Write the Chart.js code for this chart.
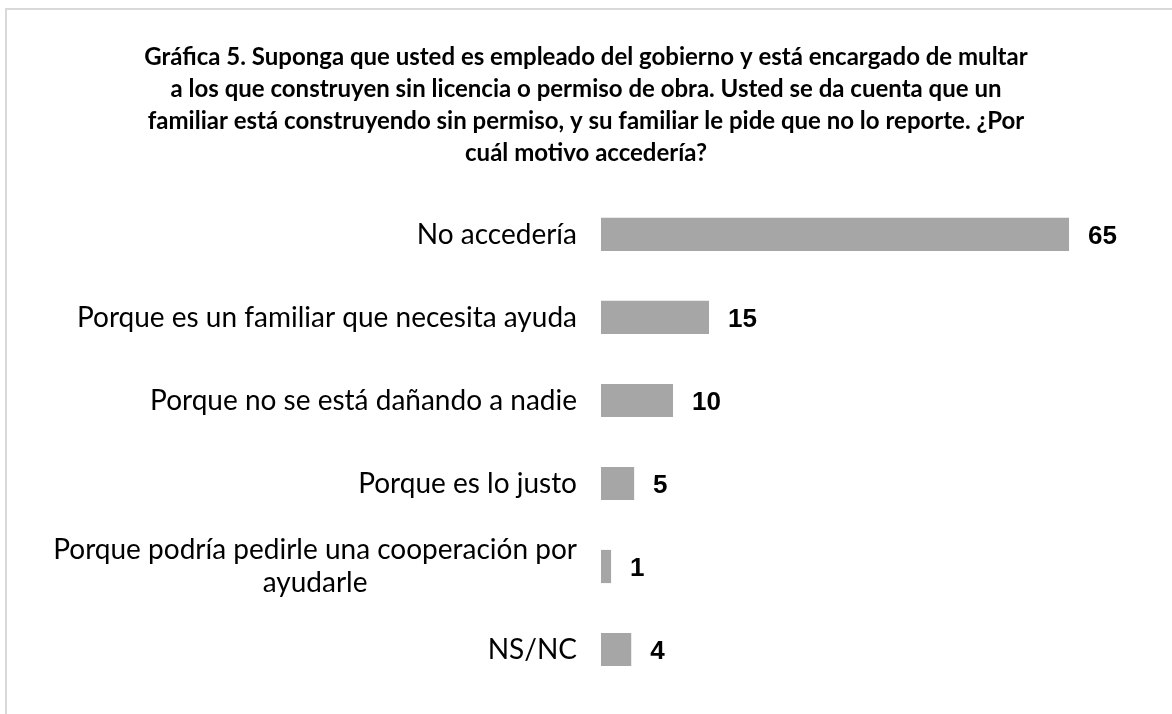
<!DOCTYPE html>
<html>
<head>
<meta charset="utf-8">
<script src="https://cdn.jsdelivr.net/npm/chart.js@4.4.1/dist/chart.umd.min.js"></script>
<style>
  html, body { margin: 0; padding: 0; background: #fff; }
  #wrap { position: relative; width: 1172px; height: 714px; overflow: hidden; }
  #frame { position: absolute; left: 5px; top: 8px; width: 1200px; height: 800px;
           border-left: 2px solid #d9d9d9; border-top: 2px solid #d9d9d9; box-sizing: border-box; }
  #c { position: absolute; left: 0; top: 0; }
</style>
</head>
<body>
<div id="wrap">
  <div id="frame"></div>
  <canvas id="c" width="1172" height="714"></canvas>
</div>
<script>
const titleLines = [
  "Gráfica 5. Suponga que usted es empleado del gobierno y está encargado de multar",
  "a los que construyen sin licencia o permiso de obra. Usted se da cuenta que un",
  "familiar está construyendo sin permiso, y su familiar le pide que no lo reporte. ¿Por",
  "cuál motivo accedería?"
];
const categories = [
  "No accedería",
  "Porque es un familiar que necesita ayuda",
  "Porque no se está dañando a nadie",
  "Porque es lo justo",
  ["Porque podría pedirle una cooperación por", "ayudarle"],
  "NS/NC"
];
const values = [65, 15, 10, 4.6, 1.4, 4.2];
const shownValues = [65, 15, 10, 5, 1, 4];

const labelFont = "28px Lato";
const valueFont = "bold 26px 'Liberation Sans', Arial, sans-serif";

const yLabelsPlugin = {
  id: 'yLabels',
  afterDraw(chart) {
    const ctx = chart.ctx;
    const ys = chart.scales.y;
    const right = chart.chartArea.left - 24;
    ctx.save();
    ctx.font = labelFont;
    ctx.fillStyle = '#000';
    ctx.textBaseline = 'middle';
    categories.forEach((lab, i) => {
      const y = ys.getPixelForTick(i);
      if (Array.isArray(lab)) {
        const w = Math.max(...lab.map(s => ctx.measureText(s).width));
        const cx = right - w / 2;
        const lh = 33;
        const y0 = y - (lab.length - 1) * lh / 2;
        ctx.textAlign = 'center';
        lab.forEach((s, k) => ctx.fillText(s, cx, y0 + k * lh));
      } else {
        ctx.textAlign = 'right';
        ctx.fillText(lab, right, y);
      }
    });
    ctx.restore();
  }
};

const valueLabelsPlugin = {
  id: 'valueLabels',
  afterDatasetsDraw(chart) {
    const ctx = chart.ctx;
    const meta = chart.getDatasetMeta(0);
    ctx.save();
    ctx.font = valueFont;
    ctx.fillStyle = '#000';
    ctx.textAlign = 'left';
    ctx.textBaseline = 'middle';
    meta.data.forEach((bar, i) => {
      ctx.fillText(String(shownValues[i]), bar.x + 19, bar.y + 2);
    });
    ctx.restore();
  }
};

new Chart(document.getElementById('c'), {
  type: 'bar',
  data: {
    labels: categories,
    datasets: [{
      data: values,
      backgroundColor: '#a6a6a6',
      borderWidth: 0,
      categoryPercentage: 0.8,
      barPercentage: 0.5
    }]
  },
  options: {
    indexAxis: 'y',
    responsive: false,
    animation: false,
    devicePixelRatio: 1,
    layout: { padding: { top: 41, bottom: 23, left: 0, right: 0 } },
    plugins: {
      legend: { display: false },
      tooltip: { enabled: false },
      title: {
        display: true,
        text: titleLines,
        color: '#000',
        font: { family: 'Lato', weight: 'bold', size: 24, lineHeight: 1.333 },
        padding: { top: 0, bottom: 24 }
      }
    },
    scales: {
      x: { display: false, min: 0, max: 79.3 },
      y: {
        type: 'category',
        grid: { display: false, drawTicks: false },
        border: { display: false },
        ticks: { display: false },
        afterFit(scale) { scale.width = 601; }
      }
    }
  },
  plugins: [yLabelsPlugin, valueLabelsPlugin]
});
</script>
</body>
</html>
